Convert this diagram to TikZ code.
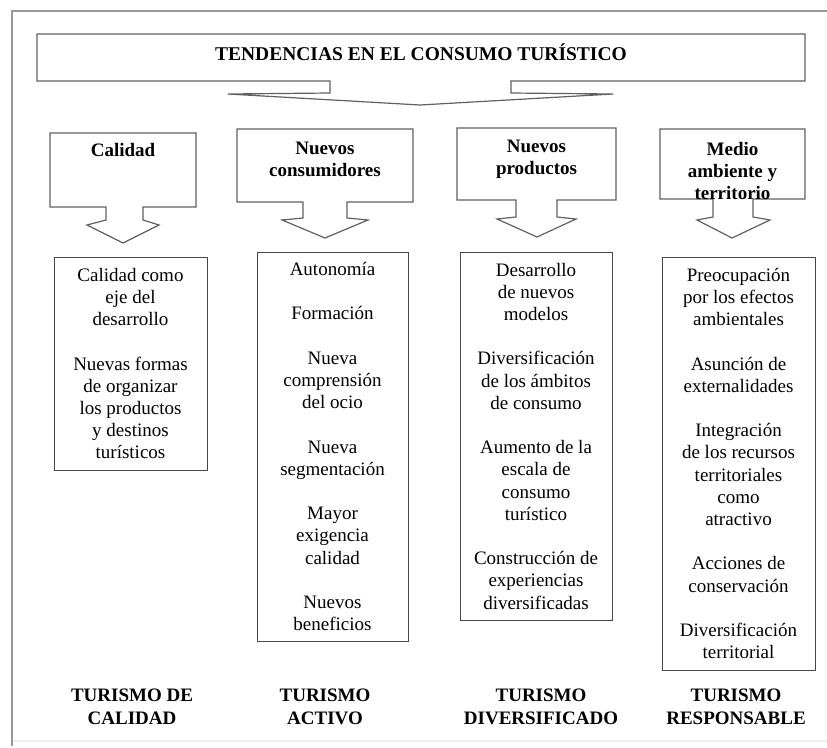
\documentclass[tikz,border=0pt]{standalone}
\usepackage{fontspec}
\setmainfont{Liberation Serif}
\usepackage{tikz}
\usetikzlibrary{positioning}

\begin{document}
\begin{tikzpicture}[x=1pt,y=-1pt,
    outline/.style={draw=gray!75!black,line width=1.2pt,line join=miter},
    listbox/.style={draw=gray!55!black,line width=1pt,align=center,inner sep=0pt,
      font=\fontsize{19}{22.2}\selectfont},
    headtext/.style={align=center,inner sep=0pt,anchor=north,
      font=\bfseries\fontsize{19}{22}\selectfont},
    typelabel/.style={align=center,inner sep=0pt,anchor=north,
      font=\bfseries\fontsize{19}{23}\selectfont}]
        \useasboundingbox (0,0) rectangle (827,747);
        % frame
        \draw[gray!80,line width=1.5pt] (12,746) -- (12,11) -- (830,11);
        \draw[gray!12,line width=2pt] (13,741) -- (827,741);

        % banner and header arrows
        \draw[outline] (37,34) -- (805,34) -- (805,81) -- (511,81) -- (511,93) -- (613,94)
            -- (420,105) -- (228,94) -- (330,93) -- (330,81) -- (37,81) -- cycle;
        \draw[outline] (50,133) -- (196,133) -- (196,207) -- (143,207) -- (143,220) -- (159,225)
            -- (123,243) -- (87,225) -- (106,220) -- (106,207) -- (50,207) -- cycle;
        \draw[outline] (237,129) -- (413,129) -- (413,202) -- (347,202) -- (347,218) -- (368,220)
            -- (325,238) -- (282,220) -- (303,218) -- (303,202) -- (237,202) -- cycle;
        \draw[outline] (457,128) -- (616,128) -- (616,200) -- (557,200) -- (557,217) -- (576,219)
            -- (537,237) -- (497,219) -- (516,217) -- (516,200) -- (457,200) -- cycle;
        \draw[outline] (660,129) -- (805,129) -- (805,199) -- (753,199) -- (753,217) -- (770,220)
            -- (732,238) -- (697,220) -- (713,217) -- (713,199) -- (660,199) -- cycle;

        \node[anchor=base,inner sep=0pt,font=\bfseries\fontsize{19.5}{23}\selectfont] (title) at (421,60)
            {TENDENCIAS EN EL CONSUMO TURÍSTICO};

        \node[headtext] (calidad) at (123,143.5) {Calidad};
        \node[headtext] (consumidores) at (325,142) {Nuevos\\consumidores};
        \node[headtext] (productos) at (536.5,140) {Nuevos\\productos};
        \node[headtext] (medio) at (732.5,142) {Medio\\ambiente y\\territorio};

        % lists
        \node[listbox,minimum width=153pt,minimum height=213pt] (calidadlist) at (130.5,363.5)
            {Calidad como\\eje del\\desarrollo\\[22.2pt]Nuevas formas\\de organizar\\los productos\\y destinos\\turísticos};
        \node[listbox,minimum width=151pt,minimum height=389pt] (consumidoreslist) at (332.5,446.5)
            {Autonomía\\[22.2pt]Formación\\[22.2pt]Nueva\\comprensión\\del ocio\\[22.2pt]Nueva\\segmentación\\[22.2pt]Mayor\\exigencia\\calidad\\[22.2pt]Nuevos\\beneficios};
        \node[listbox,minimum width=152pt,minimum height=368pt] (productoslist) at (536,436)
            {Desarrollo\\de nuevos\\modelos\\[22.2pt]Diversificación\\de los ámbitos\\de consumo\\[22.2pt]Aumento de la\\escala de\\consumo\\turístico\\[22.2pt]Construcción de\\experiencias\\diversificadas};
        \node[listbox,minimum width=153pt,minimum height=413pt] (mediolist) at (738.5,463.5)
            {Preocupación\\por los efectos\\ambientales\\[22.2pt]Asunción de\\externalidades\\[22.2pt]Integración\\de los recursos\\territoriales\\como\\atractivo\\[22.2pt]Acciones de\\conservación\\[22.2pt]Diversificación\\territorial};

        % tourism types
        \node[typelabel] (tcalidad) at (132,688.5) {TURISMO DE\\CALIDAD};
        \node[typelabel] (tactivo) at (325,688.5) {TURISMO\\ACTIVO};
        \node[typelabel] (tdiversificado) at (541,688.5) {TURISMO\\DIVERSIFICADO};
        \node[typelabel] (tresponsable) at (736,688.5) {TURISMO\\RESPONSABLE};
    \end{tikzpicture}
\end{document}
